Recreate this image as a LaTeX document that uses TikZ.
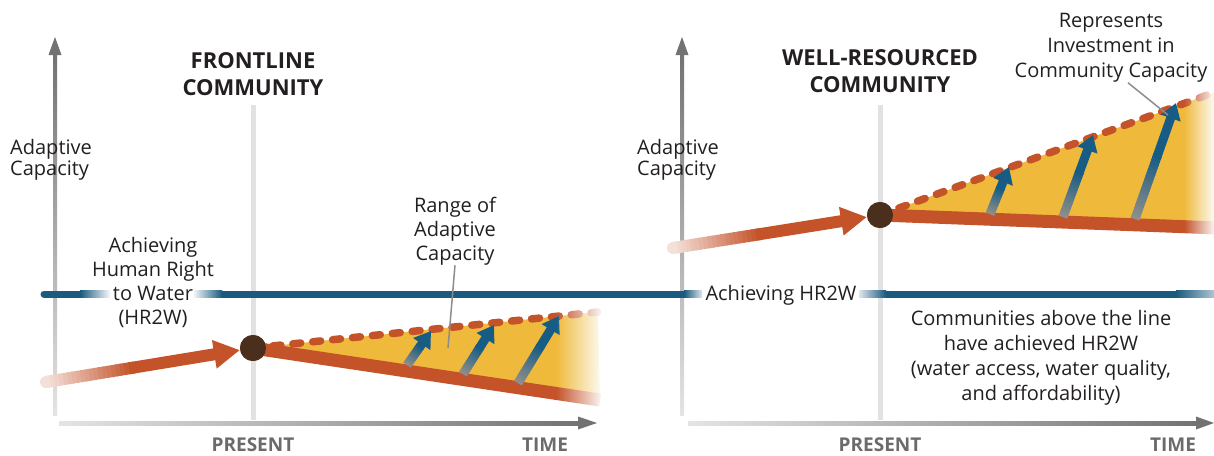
\documentclass[tikz,border=0pt]{standalone}
\usepackage{fontspec}
\setmainfont{Open Sans}
\usetikzlibrary{arrows.meta}
\usetikzlibrary{calc}
\usetikzlibrary{fadings}

\definecolor{capOrange}{HTML}{C4532A}
\definecolor{capYellow}{HTML}{EFBA3C}
\definecolor{hrBlue}{HTML}{1A5A7E}
\definecolor{upBlue}{HTML}{165C85}
\definecolor{upGray}{HTML}{8E8E8A}
\definecolor{dotBrown}{HTML}{4A2F1D}
\definecolor{axDark}{HTML}{727272}
\definecolor{axLight}{HTML}{E4E4E4}
\definecolor{presGray}{HTML}{E2E2E2}
\definecolor{tickText}{HTML}{6B6B6B}
\definecolor{ink}{HTML}{231F20}
\definecolor{pointerGray}{HTML}{8C8C8C}
\colorlet{tailPale}{capOrange!18!white}

\tikzfading[name=whiteout, left color=transparent!100, right color=transparent!0]

% arrow whose first part runs from one colour into another
\newcommand{\shadedarrow}[7][0.5]{%
    \draw[#6, color=#4] (#2) -- ($(#2)!0.02!(#3)$);
    \foreach \k in {0,...,19}{%
        \pgfmathsetmacro{\ka}{#1*\k/20}%
        \pgfmathsetmacro{\kb}{#1*(\k+1.3)/20}%
        \pgfmathtruncatemacro{\kp}{100*\k/19}%
        \draw[#6, line cap=butt, color=#5!\kp!#4] ($(#2)!\ka!(#3)$) -- ($(#2)!\kb!(#3)$);
    }%
    \draw[#6, line cap=butt, color=#5, -{#7}] ($(#2)!#1*0.97!(#3)$) -- (#3);
}

\begin{document}
\begin{tikzpicture}[
        x=1pt, y=-1pt,
        bodytext/.style={font=\fontsize{20}{24}\selectfont, text=ink, align=center, inner sep=0pt},
        axislabel/.style={font=\fontsize{20}{21}\selectfont, text=ink, align=left, inner sep=0pt, anchor=west},
        titletext/.style={font=\bfseries\fontsize{22}{27}\selectfont, text=ink, align=center, inner sep=0pt},
        ticktext/.style={font=\bfseries\fontsize{19}{22}\selectfont, text=tickText, inner sep=0pt},
        dot/.style={circle, fill=dotBrown, minimum size=26pt, inner sep=0pt},
        presline/.style={presGray, line width=5pt},
        solidpath/.style={capOrange, line width=13pt},
        dashpath/.style={capOrange, line width=7.5pt, line cap=round, dash pattern=on 8pt off 12pt},
        pointer/.style={pointerGray, line width=1.5pt}
    ]
    \useasboundingbox (0,0) rectangle (1214,455);

    % axes
    \shade[bottom color=axLight, top color=axDark] (53,415) rectangle (57,52);
    \fill[axDark] (55,37) -- (48.5,55) -- (61.5,55) -- cycle;
    \shade[left color=axLight, right color=axDark] (59,421) rectangle (580,425);
    \fill[axDark] (597,423) -- (578,416.5) -- (578,429.5) -- cycle;
    \shade[bottom color=axLight, top color=axDark] (680,415) rectangle (684,52);
    \fill[axDark] (682,37) -- (675.5,55) -- (688.5,55) -- cycle;
    \shade[left color=axLight, right color=axDark] (688,421) rectangle (1198,425);
    \fill[axDark] (1214,423) -- (1196,416.5) -- (1196,429.5) -- cycle;

    \draw[presline] (253,105) -- (253,420);
    \draw[presline] (880,105) -- (880,420);

    % HR2W line
    \draw[hrBlue, line width=7pt, line cap=round] (44,294) -- (80,294);
    \shade[left color=hrBlue, right color=white] (80,290.5) rectangle (111,297.5);
    \shade[left color=white, right color=hrBlue] (192,290.5) rectangle (222,297.5);
    \fill[hrBlue] (222,290.5) rectangle (684,297.5);
    \shade[left color=hrBlue, right color=hrBlue!15!white] (684,290.5) rectangle (702,297.5);
    \shade[left color=hrBlue!15!white, right color=hrBlue] (859,290.5) rectangle (886,297.5);
    \fill[hrBlue] (886,290.5) rectangle (1176,297.5);
    \shade[left color=hrBlue, right color=hrBlue!35!white] (1176,290.5) rectangle (1214,297.5);

    % frontline community
    \node[dot] (dotL) at (253,348) {};
    \coordinate (tailL) at (46,382);
    \coordinate (solidEndL) at (600,400);
    \coordinate (dashEndL) at (598,312);

    \fill[capYellow] (dotL.center) -- (dashEndL) -- (solidEndL) -- cycle;
    \draw[solidpath] (dotL.center) -- (solidEndL);
    \draw[dashpath] (dotL.center) -- (dashEndL);

    \coordinate (upbL1) at (407,365);
    \coordinate (uptL1) at (431,331);
    \coordinate (upbL2) at (463,374);
    \coordinate (uptL2) at (494,325);
    \coordinate (upbL3) at (518,383);
    \coordinate (uptL3) at (559,316);
    \foreach \i in {1,2,3} {
        \shadedarrow[0.55]{upbL\i}{uptL\i}{upGray}{upBlue}{line width=9pt}{Triangle[length=16pt,width=20pt]}
    }

    \fill[white, path fading=whiteout] (556,300) rectangle (604,413);

    \shadedarrow[0.45]{tailL}{dotL.189}{tailPale}{capOrange}{line width=12pt, line cap=round}{Triangle[length=26pt,width=27pt]}
    \node[dot] at (dotL) {};

    % well-resourced community
    \node[dot] (dotR) at (880,215) {};
    \coordinate (tailR) at (673,248);
    \coordinate (solidEndR) at (1218,228);
    \coordinate (dashEndR) at (1218,91);

    \fill[capYellow] (dotR.center) -- (dashEndR) -- (solidEndR) -- cycle;
    \draw[solidpath] (dotR.center) -- (solidEndR);
    \draw[dashpath] (dotR.center) -- (dashEndR);

    \coordinate (upbR1) at (990,214);
    \coordinate (uptR1) at (1009,167);
    \coordinate (upbR2) at (1063,217);
    \coordinate (uptR2) at (1093,135);
    \coordinate (upbR3) at (1135,219);
    \coordinate (uptR3) at (1176,103);
    \foreach \i in {1,2,3} {
        \shadedarrow[0.55]{upbR\i}{uptR\i}{upGray}{upBlue}{line width=9pt}{Triangle[length=16pt,width=20pt]}
    }

    \fill[white, path fading=whiteout] (1184,78) rectangle (1216,246);

    \shadedarrow[0.45]{tailR}{dotR.189}{tailPale}{capOrange}{line width=12pt, line cap=round}{Triangle[length=26pt,width=27pt]}
    \node[dot] at (dotR) {};

    % labels
    \node[titletext] (titleL) at (253,74) {FRONTLINE\\COMMUNITY};
    \node[titletext] (titleR) at (880,71) {WELL-RESOURCED\\COMMUNITY};
    \node[axislabel] (capL) at (10,160) {Adaptive\\Capacity};
    \node[axislabel] (capR) at (637,160) {Adaptive\\Capacity};
    \node[bodytext] (hrL) at (153,282) {Achieving\\Human Right\\to Water\\(HR2W)};
    \node[bodytext] (hrR) at (781,295) {Achieving HR2W};
    \node[bodytext] (rangeL) at (455,231) {Range of\\Adaptive\\Capacity};
    \node[bodytext, font=\fontsize{20}{25}\selectfont] (investR) at (1111,48) {Represents\\Investment in\\Community Capacity};
    \node[bodytext, font=\fontsize{20}{25}\selectfont] (aboveR) at (1041,358) {Communities above the line\\have achieved HR2W\\(water access, water quality,\\and affordability)};

    \coordinate (rangePt) at (448,348);
    \coordinate (investPt) at (1168,115);
    \draw[pointer] (rangeL.south) -- (rangePt);
    \draw[pointer] (investR.-64) -- (investPt);

    \node[ticktext] (presL) at (253,445) {PRESENT};
    \node[ticktext] (timeL) at (545,445) {TIME};
    \node[ticktext] (presR) at (880,445) {PRESENT};
    \node[ticktext] (timeR) at (1173,445) {TIME};
\end{tikzpicture}
\end{document}
